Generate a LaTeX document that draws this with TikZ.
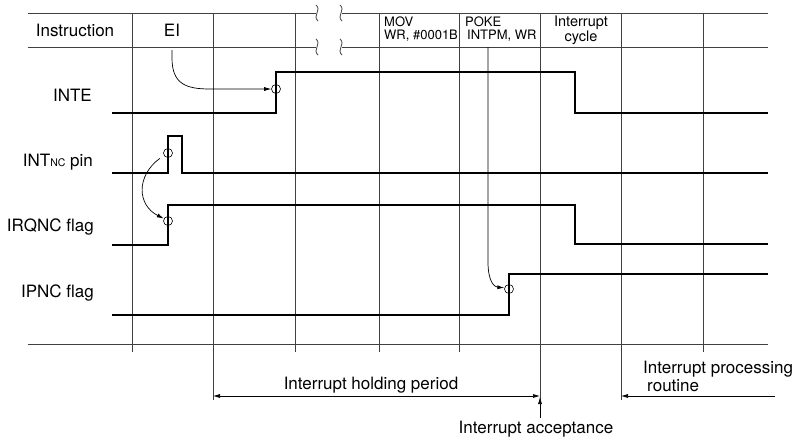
\documentclass[tikz,border=0pt]{standalone}
\usepackage{fontspec}
\setmainfont{TeX Gyre Heros}
\usetikzlibrary{arrows.meta}

\newcommand{\smallnc}[1]{{\fontsize{10.5}{10.5}\selectfont #1}}

\begin{document}
\begin{tikzpicture}[x=1pt,y=-1pt,
  font=\fontsize{17}{18}\selectfont,
  grid/.style={draw=black!75,line width=0.8pt},
  sig/.style={draw=black,line width=2.2pt,line join=miter},
  hdr/.style={font=\fontsize{13}{12.5}\selectfont,inner sep=0pt},
  lbl/.style={anchor=base east,inner sep=0pt},
  txt/.style={anchor=base,inner sep=0pt},
  ring/.style={circle,draw=black,line width=0.6pt,minimum size=9pt,inner sep=0pt},
  ar/.style={-{Latex[length=7pt,width=4pt]},draw=black,line width=0.7pt}
]
\useasboundingbox (0,0) rectangle (795,439);

% table frame
\draw[grid] (28,13) -- (316,13) (342,13) -- (768,13);
\draw[grid] (28,47) -- (316,47) (342,47) -- (768,47);
\draw[grid] (28,344) -- (768,344);
\foreach \x in {132,295,379,459,703}{\draw[grid] (\x,13) -- (\x,352);}
\foreach \x in {213,540,621}{\draw[grid] (\x,13) -- (\x,400);}
\foreach \x in {317,341}{\foreach \y in {13,47}{
  \draw[grid] (\x-1,\y-8) .. controls (\x+5,\y-3) and (\x-5,\y+3) .. (\x+1,\y+8);}}

% header
\node[txt] (h-ins) at (75,36) {Instruction};
\node[txt] (h-ei) at (172,36) {EI};
\node[hdr,anchor=north west,align=left] (h-mov) at (384,17) {MOV\\WR, \#0001B};
\node[hdr,anchor=north west,align=left] (h-poke) at (465,17) {POKE\\\hspace*{2pt}INTPM, WR};
\node[hdr,font=\fontsize{14.5}{13}\selectfont,anchor=north,align=center] (h-cyc) at (581,16) {Interrupt\\cycle};

% signal names
\node[lbl] (l-inte) at (92,101) {INTE};
\node[lbl] (l-int) at (93,166) {INT\smallnc{NC} pin};
\node[lbl] (l-irq) at (94,231) {IRQNC flag};
\node[lbl] (l-ipnc) at (94,297) {IPNC flag};

% waveforms
\draw[sig] (112,113) -- (276,113) -- (276,72) -- (575,72) -- (575,113) -- (768,113);
\draw[sig] (112,173) -- (168,173) -- (168,136) -- (182,136) -- (182,173) -- (768,173);
\draw[sig] (112,245) -- (168,245) -- (168,205) -- (575,205) -- (575,244) -- (768,244);
\draw[sig] (112,315) -- (509,315) -- (509,274) -- (768,274);

\node[ring] (r-inte) at (276,89) {};
\node[ring] (r-int) at (168,153) {};
\node[ring] (r-irq) at (168,221) {};
\node[ring] (r-ipnc) at (509,289) {};

% cause arrows
\coordinate (ei-out) at (172,50);
\draw[ar] (ei-out) -- (172,58) .. controls (172,84) and (186,89) .. (210,89) -- (r-inte.west);
\draw[ar,shorten <=5pt] (r-int.210) .. controls (136,176) and (137,205) .. (r-irq.150);
\coordinate (poke-out) at (488,47);
\draw[ar] (poke-out) -- (488,262) .. controls (488,281) and (494,287) .. (r-ipnc.165);

% periods
\coordinate (hold-l) at (213,396);
\coordinate (hold-r) at (540,396);
\node[txt] (hold) at (371,389) {Interrupt holding period};
\draw[ar,{Latex[length=7pt,width=4pt]}-{Latex[length=7pt,width=4pt]}] (hold-l) -- (hold-r);

\coordinate (acc-tip) at (540,397);
\node[txt] (acc) at (536,433) {Interrupt acceptance};
\draw[ar,shorten <=2pt] (acc.north -| acc-tip) -- (acc-tip);

\coordinate (proc-l) at (621,396);
\coordinate (proc-r) at (775,396);
\node[anchor=north west,align=left,inner sep=0pt] (proc) at (643,361) {Interrupt processing\\\hspace*{4pt}routine};
\draw[ar] (proc-r) -- (proc-l);
\end{tikzpicture}
\end{document}
